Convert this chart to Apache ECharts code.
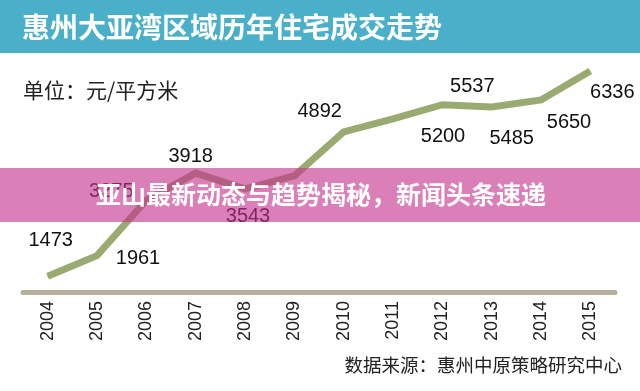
<!DOCTYPE html>
<html>
<head>
<meta charset="utf-8">
<script src="https://cdn.jsdelivr.net/npm/echarts@6/dist/echarts.min.js"></script>
<style>html,body{margin:0;padding:0;background:#fff}#c{width:640px;height:391px}</style>
</head>
<body>
<div id="c"></div>
<script>
var years = ['2004','2005','2006','2007','2008','2009','2010','2011','2012','2013','2014','2015'];
var prices = [1473, 1961, 3275, 3918, 3543, 3850, 4892, 5200, 5537, 5485, 5650, 6336];
var showLabel = [true, true, true, true, true, false, true, true, true, true, true, true];
var labelOffsets = [[3,-36],[41,3],[-35,-9],[-5,-17],[3,28],[0,0],[-24,-20],[50,18],[30,-18],[20,32],[28,23],[22,21]];
var titleText = '惠州大亚湾区域历年住宅成交走势';
var unitText = '单位：元/平方米';
var sourceText = '数据来源：惠州中原策略研究中心';
var bannerText = '亚山最新动态与趋势揭秘，新闻头条速递';

var seriesData = prices.map(function (v, i) {
  return {
    value: v,
    label: { show: showLabel[i], offset: labelOffsets[i] }
  };
});

var chart = echarts.init(document.getElementById('c'));
chart.setOption({
  backgroundColor: '#ffffff',
  animation: false,
  grid: { left: 23, right: 25, top: 43, bottom: 99, containLabel: false },
  xAxis: {
    type: 'category',
    data: years,
    boundaryGap: true,
    axisLine: { show: true, lineStyle: { color: '#b6af9a', width: 5 } },
    axisTick: { show: false },
    axisLabel: {
      rotate: 90, margin: 9, color: '#222',
      fontSize: 18, fontFamily: 'Liberation Sans'
    },
    splitLine: { show: false }
  },
  yAxis: {
    type: 'value', min: 1100, max: 7000,
    show: false, splitLine: { show: false }
  },
  series: [{
    type: 'line',
    data: seriesData,
    symbol: 'circle',
    symbolSize: 1,
    showSymbol: true,
    itemStyle: { color: '#9aab72' },
    lineStyle: { color: '#9aab72', width: 7, cap: 'butt', join: 'miter' },
    label: {
      show: true, position: 'inside', color: '#111',
      fontSize: 20, fontFamily: 'Liberation Sans'
    },
    z: 2
  }],
  graphic: [
    { type: 'rect', left: 0, top: 0, shape: { width: 640, height: 53 },
      style: { fill: '#4aafc8' }, z: 100 },
    { type: 'text', left: 22, top: 13, z: 101,
      style: { text: titleText, fill: '#ffffff', fontSize: 28, fontWeight: 'bold',
        fontFamily: 'Noto Sans CJK SC' } },
    { type: 'text', left: 23, top: 80, z: 101,
      style: { text: unitText, fill: '#222', fontSize: 21,
        fontFamily: 'Noto Sans CJK SC' } },
    { type: 'text', right: 18, top: 356, z: 101,
      style: { text: sourceText, fill: '#222', fontSize: 18.5,
        fontFamily: 'Noto Sans CJK SC' } },
    { type: 'rect', left: 0, top: 168, shape: { width: 640, height: 54 },
      style: { fill: 'rgba(197,48,140,0.62)' }, z: 100 },
    { type: 'text', left: 96, top: 182, z: 101,
      style: { text: bannerText, fill: '#ffffff', fontSize: 25, fontWeight: 'bold',
        fontFamily: 'Noto Sans CJK SC' } }
  ]
});
</script>
</body>
</html>
